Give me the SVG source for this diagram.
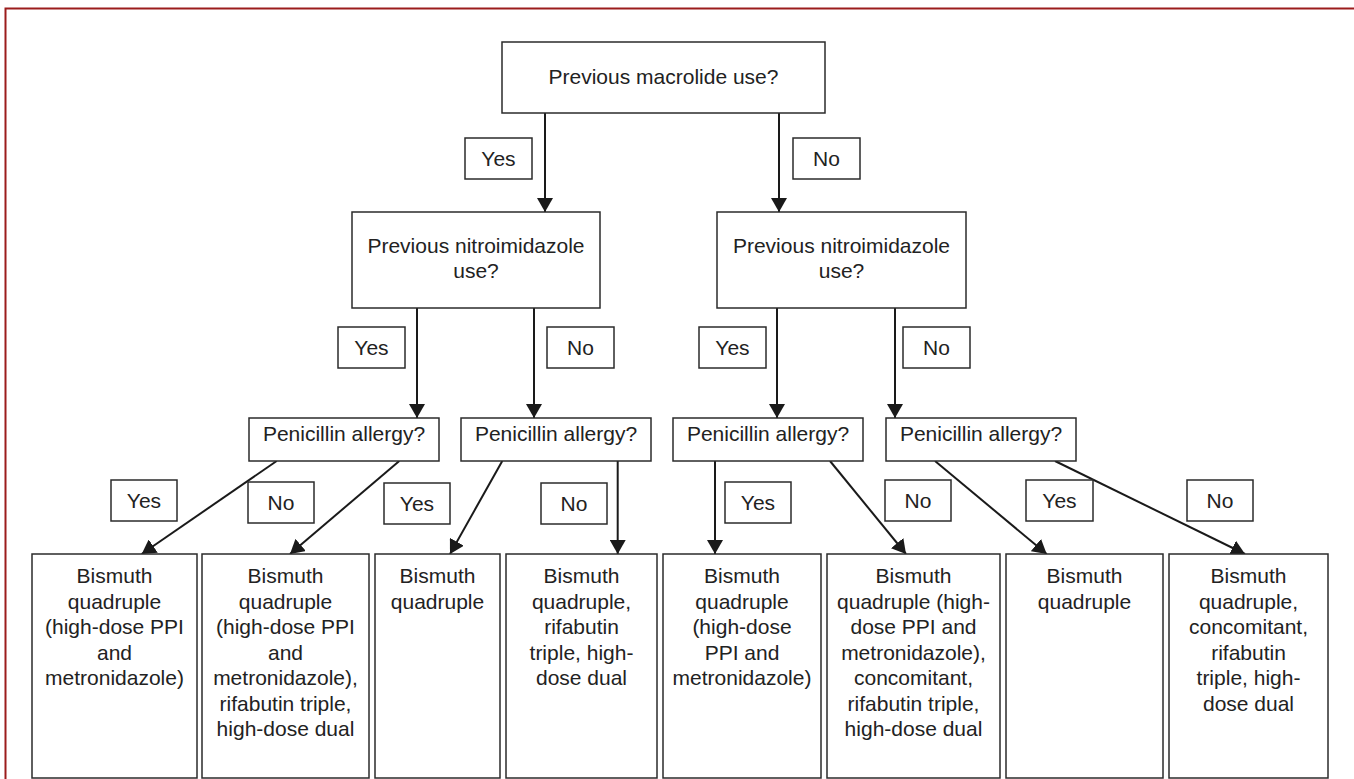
<svg xmlns="http://www.w3.org/2000/svg" width="1354" height="779" viewBox="0 0 1354 779">
  <defs>
    <marker id="arrow" markerUnits="userSpaceOnUse" markerWidth="15" markerHeight="16" refX="14" refY="8" orient="auto">
      <path d="M0,0 L14,8 L0,16 z" fill="#1a1a1a"/>
    </marker>
    <style>
      .box { fill: #ffffff; stroke: #2b2b2b; stroke-width: 1.5; }
      .lbl { fill: #ffffff; stroke: #2b2b2b; stroke-width: 1.5; }
      .t { font-family: "Liberation Sans", Arial, Helvetica, sans-serif; font-size: 21px; fill: #222222; text-anchor: middle; }
      .edge { stroke: #1a1a1a; stroke-width: 2; fill: none; marker-end: url(#arrow); }
      .frame { stroke: #9b1c1c; stroke-width: 2; fill: none; }
    </style>
  </defs>

  <rect width="1354" height="779" fill="#ffffff"/>

  <!-- page frame -->
  <path class="frame" d="M5.5,779 L5.5,8.5 L1354,8.5"/>

  <!-- connectors -->
  <g id="connectors">
    <line class="edge" x1="545" y1="113" x2="545" y2="212"/>
    <line class="edge" x1="779" y1="113" x2="779" y2="212"/>
    <line class="edge" x1="417" y1="308" x2="417" y2="418"/>
    <line class="edge" x1="534" y1="308" x2="534" y2="418"/>
    <line class="edge" x1="777" y1="308" x2="777" y2="418"/>
    <line class="edge" x1="895" y1="308" x2="895" y2="418"/>
    <line class="edge" x1="276.7" y1="461" x2="141.7" y2="554"/>
    <line class="edge" x1="399.3" y1="461" x2="290" y2="554"/>
    <line class="edge" x1="502.3" y1="461" x2="450" y2="554"/>
    <line class="edge" x1="617.7" y1="461" x2="617.7" y2="554"/>
    <line class="edge" x1="715" y1="461" x2="715" y2="554"/>
    <line class="edge" x1="830" y1="461" x2="906" y2="554"/>
    <line class="edge" x1="935" y1="461" x2="1046.7" y2="554"/>
    <line class="edge" x1="1055" y1="461" x2="1245" y2="554"/>
  </g>

  <!-- edge labels -->
  <g id="labels">
    <rect class="lbl" x="465" y="138" width="67" height="41"/><text class="t" x="498.5" y="166">Yes</text>
    <rect class="lbl" x="793" y="138" width="67" height="41"/><text class="t" x="826.5" y="166">No</text>
    <rect class="lbl" x="338" y="327" width="67" height="41"/><text class="t" x="371.5" y="355">Yes</text>
    <rect class="lbl" x="547" y="327" width="67" height="41"/><text class="t" x="580.5" y="355">No</text>
    <rect class="lbl" x="699" y="327" width="67" height="41"/><text class="t" x="732.5" y="355">Yes</text>
    <rect class="lbl" x="903" y="327" width="67" height="41"/><text class="t" x="936.5" y="355">No</text>
    <rect class="lbl" x="111" y="480" width="66" height="41"/><text class="t" x="144" y="508">Yes</text>
    <rect class="lbl" x="248" y="482" width="66" height="41"/><text class="t" x="281" y="510">No</text>
    <rect class="lbl" x="384" y="483" width="66" height="41"/><text class="t" x="417" y="511">Yes</text>
    <rect class="lbl" x="541" y="483" width="66" height="41"/><text class="t" x="574" y="511">No</text>
    <rect class="lbl" x="725" y="482" width="66" height="41"/><text class="t" x="758" y="510">Yes</text>
    <rect class="lbl" x="885" y="480" width="66" height="41"/><text class="t" x="918" y="508">No</text>
    <rect class="lbl" x="1026" y="480" width="67" height="41"/><text class="t" x="1059.5" y="508">Yes</text>
    <rect class="lbl" x="1187" y="480" width="66" height="41"/><text class="t" x="1220" y="508">No</text>
  </g>

  <!-- decision nodes -->
  <g id="macrolide">
    <rect class="box" x="502" y="42" width="323" height="71"/>
    <text class="t" x="663.5" y="84">Previous macrolide use?</text>
  </g>
  <g id="nitro-yes">
    <rect class="box" x="352" y="212" width="248" height="96"/>
    <text class="t" x="476" y="253">Previous nitroimidazole</text>
    <text class="t" x="476" y="278">use?</text>
  </g>
  <g id="nitro-no">
    <rect class="box" x="717" y="212" width="249" height="96"/>
    <text class="t" x="841.5" y="253">Previous nitroimidazole</text>
    <text class="t" x="841.5" y="278">use?</text>
  </g>
  <g id="pen-1">
    <rect class="box" x="249" y="418" width="190" height="43"/>
    <text class="t" x="344" y="441">Penicillin allergy?</text>
  </g>
  <g id="pen-2">
    <rect class="box" x="461" y="418" width="190" height="43"/>
    <text class="t" x="556" y="441">Penicillin allergy?</text>
  </g>
  <g id="pen-3">
    <rect class="box" x="673" y="418" width="190" height="43"/>
    <text class="t" x="768" y="441">Penicillin allergy?</text>
  </g>
  <g id="pen-4">
    <rect class="box" x="886" y="418" width="190" height="43"/>
    <text class="t" x="981" y="441">Penicillin allergy?</text>
  </g>

  <!-- treatment nodes -->
  <g id="tx-1">
    <rect class="box" x="32" y="554" width="165" height="224"/>
    <text class="t" x="114.5" y="583">Bismuth</text>
    <text class="t" x="114.5" y="608.5">quadruple</text>
    <text class="t" x="114.5" y="634">(high-dose PPI</text>
    <text class="t" x="114.5" y="659.5">and</text>
    <text class="t" x="114.5" y="685">metronidazole)</text>
  </g>
  <g id="tx-2">
    <rect class="box" x="202" y="554" width="167" height="224"/>
    <text class="t" x="285.5" y="583">Bismuth</text>
    <text class="t" x="285.5" y="608.5">quadruple</text>
    <text class="t" x="285.5" y="634">(high-dose PPI</text>
    <text class="t" x="285.5" y="659.5">and</text>
    <text class="t" x="285.5" y="685">metronidazole),</text>
    <text class="t" x="285.5" y="710.5">rifabutin triple,</text>
    <text class="t" x="285.5" y="736">high-dose dual</text>
  </g>
  <g id="tx-3">
    <rect class="box" x="375" y="554" width="125" height="224"/>
    <text class="t" x="437.5" y="583">Bismuth</text>
    <text class="t" x="437.5" y="608.5">quadruple</text>
  </g>
  <g id="tx-4">
    <rect class="box" x="506" y="554" width="151" height="224"/>
    <text class="t" x="581.5" y="583">Bismuth</text>
    <text class="t" x="581.5" y="608.5">quadruple,</text>
    <text class="t" x="581.5" y="634">rifabutin</text>
    <text class="t" x="581.5" y="659.5">triple, high-</text>
    <text class="t" x="581.5" y="685">dose dual</text>
  </g>
  <g id="tx-5">
    <rect class="box" x="663" y="554" width="158" height="224"/>
    <text class="t" x="742" y="583">Bismuth</text>
    <text class="t" x="742" y="608.5">quadruple</text>
    <text class="t" x="742" y="634">(high-dose</text>
    <text class="t" x="742" y="659.5">PPI and</text>
    <text class="t" x="742" y="685">metronidazole)</text>
  </g>
  <g id="tx-6">
    <rect class="box" x="827" y="554" width="173" height="224"/>
    <text class="t" x="913.5" y="583">Bismuth</text>
    <text class="t" x="913.5" y="608.5">quadruple (high-</text>
    <text class="t" x="913.5" y="634">dose PPI and</text>
    <text class="t" x="913.5" y="659.5">metronidazole),</text>
    <text class="t" x="913.5" y="685">concomitant,</text>
    <text class="t" x="913.5" y="710.5">rifabutin triple,</text>
    <text class="t" x="913.5" y="736">high-dose dual</text>
  </g>
  <g id="tx-7">
    <rect class="box" x="1006" y="554" width="157" height="224"/>
    <text class="t" x="1084.5" y="583">Bismuth</text>
    <text class="t" x="1084.5" y="608.5">quadruple</text>
  </g>
  <g id="tx-8">
    <rect class="box" x="1169" y="554" width="159" height="224"/>
    <text class="t" x="1248.5" y="583">Bismuth</text>
    <text class="t" x="1248.5" y="608.5">quadruple,</text>
    <text class="t" x="1248.5" y="634">concomitant,</text>
    <text class="t" x="1248.5" y="659.5">rifabutin</text>
    <text class="t" x="1248.5" y="685">triple, high-</text>
    <text class="t" x="1248.5" y="710.5">dose dual</text>
  </g>
</svg>
